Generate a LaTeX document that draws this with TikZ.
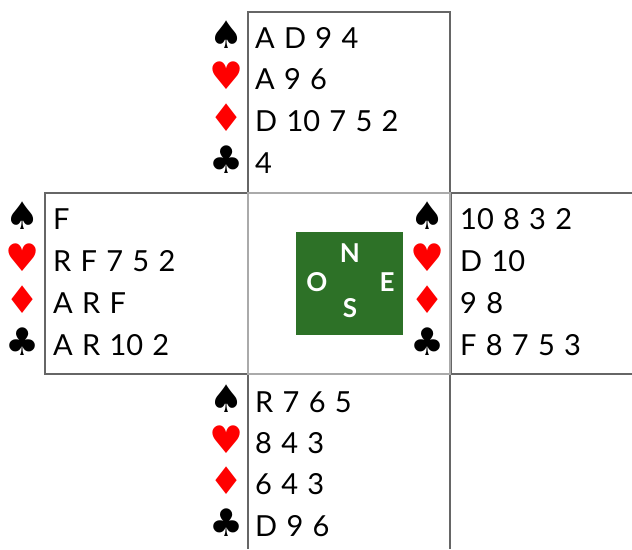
\documentclass[tikz,border=0pt]{standalone}
\usepackage{fontspec}
\setmainfont{Lato}
\newfontfamily\suitfont{DejaVu Sans}
\usetikzlibrary{positioning}
\definecolor{BRFrame}{HTML}{666666}
\definecolor{BRFrameLight}{HTML}{AAAAAA}
\definecolor{BRFelt}{HTML}{2D7127}
\definecolor{BRRed}{HTML}{FF0000}
\newcommand\handfont{\fontsize{29}{32}\selectfont\spaceskip=0.32em\relax}
\tikzset{
  suit/.style={font=\suitfont\fontsize{38}{40}\selectfont,inner sep=0pt,anchor=base},
  suitred/.style={suit,text=BRRed},
  holding/.style={font=\handfont,inner sep=0pt,anchor=base west},
  frame/.style={draw=BRFrame,line width=1.3pt},
  framelight/.style={draw=BRFrameLight,line width=1.3pt},
  felt/.style={fill=BRFelt},
  compass/.style={text=white,font=\fontsize{26}{28}\selectfont\bfseries,inner sep=0pt},
}

\begin{document}
\begin{tikzpicture}[x=1pt,y=-1pt]
    \useasboundingbox (0,0) rectangle (632,549);

    % frames
    \draw[frame] (248,193) -- (248,12) -- (450,12) -- (450,193);
    \draw[frame] (45,193) rectangle (248,374);
    \draw[frame] (632,193) -- (451,193) -- (451,374) -- (632,374);
    \draw[frame] (248,374) -- (248,549);
    \draw[frame] (450,374) -- (450,549);
    \draw[framelight] (248,193) rectangle (450,374);

    % table
    \fill[felt] (296,232) rectangle (403,335);
    \node[compass] (dirN) at (350,253) {N};
    \node[compass] (dirO) at (317,282) {O};
    \node[compass] (dirE) at (387,282) {E};
    \node[compass] (dirS) at (350,308) {S};

    % north
    \node[suit]    (nS) at (227,48)  {♠};
    \node[suitred] (nH) at (227,89)  {♥};
    \node[suitred] (nD) at (227,131) {♦};
    \node[suit]    (nC) at (227,173) {♣};
    \node[holding] (nSh) at (255,48)  {A D 9 4};
    \node[holding] (nHh) at (255,89)  {A 9 6};
    \node[holding] (nDh) at (255,131) {D 10 7 5 2};
    \node[holding] (nCh) at (255,173) {4};

    % west
    \node[suit]    (wS) at (23,229) {♠};
    \node[suitred] (wH) at (23,271) {♥};
    \node[suitred] (wD) at (23,313) {♦};
    \node[suit]    (wC) at (23,355) {♣};
    \node[holding] (wSh) at (53,229) {F};
    \node[holding] (wHh) at (53,271) {R F 7 5 2};
    \node[holding] (wDh) at (53,313) {A R F};
    \node[holding] (wCh) at (53,355) {A R 10 2};

    % east
    \node[suit]    (eS) at (428,229) {♠};
    \node[suitred] (eH) at (428,271) {♥};
    \node[suitred] (eD) at (428,313) {♦};
    \node[suit]    (eC) at (428,355) {♣};
    \node[holding] (eSh) at (460,229) {10 8 3 2};
    \node[holding] (eHh) at (460,271) {D 10};
    \node[holding] (eDh) at (460,313) {9 8};
    \node[holding] (eCh) at (460,355) {F 8 7 5 3};

    % south
    \node[suit]    (sS) at (227,412) {♠};
    \node[suitred] (sH) at (227,453) {♥};
    \node[suitred] (sD) at (227,494) {♦};
    \node[suit]    (sC) at (227,536) {♣};
    \node[holding] (sSh) at (255,412) {R 7 6 5};
    \node[holding] (sHh) at (255,453) {8 4 3};
    \node[holding] (sDh) at (255,494) {6 4 3};
    \node[holding] (sCh) at (255,536) {D 9 6};
\end{tikzpicture}
\end{document}
